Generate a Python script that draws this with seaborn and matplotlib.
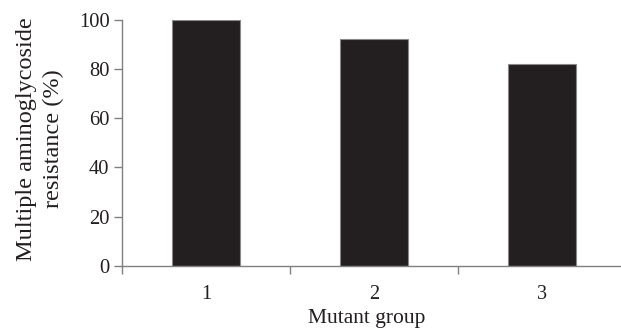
import matplotlib
matplotlib.use("Agg")
import matplotlib.pyplot as plt
import seaborn as sns
import pandas as pd

groups = ["1", "2", "3"]
resistance = [100, 92, 82]

sns.set_style("white")
plt.rcParams['font.family'] = ['Liberation Serif', 'DejaVu Serif']

df = pd.DataFrame({"group": groups, "resistance": resistance})

fig = plt.figure(figsize=(6.21, 3.28), dpi=100)
ax = fig.add_axes([122/621, 62/328, 504/621, 246.5/328])
sns.barplot(data=df, x="group", y="resistance", color="#231f20", width=0.41,
            edgecolor="#888888", linewidth=0.8, saturation=1, ax=ax)

ax.set_xlim(-0.5, 2.5)
ax.set_ylim(0, 100)
ax.set_yticks([0, 20, 40, 60, 80, 100])
for s in ["top", "right"]:
    ax.spines[s].set_visible(False)
for s in ["left", "bottom"]:
    ax.spines[s].set_color("#808080")
    ax.spines[s].set_linewidth(1.0)

ax.set_xticks([0, 1, 2])
ax.set_xticklabels(groups)
ax.set_xticks([-0.5, 0.5, 1.5], minor=True)
ax.tick_params(axis="x", which="major", bottom=True, length=0, pad=14, labelsize=14.5,
               colors="#231f20")
ax.tick_params(axis="x", which="minor", bottom=True, length=6, width=1, color="#808080",
               direction="out")
ax.tick_params(axis="y", left=True, length=6, width=1, color="#808080", direction="out",
               pad=3, labelsize=14.8, labelcolor="#231f20")

ax.set_xlabel("Mutant group", fontsize=15.5, color="#231f20")
ax.xaxis.set_label_coords((367-122)/504, -(318-266)/246.5, transform=ax.transAxes)
ax.xaxis.label.set_va("center")
ax.set_ylabel("Multiple aminoglycoside\nresistance (%)", fontsize=17.5, color="#231f20",
              linespacing=1.35)
ax.yaxis.set_label_coords(-(122-40)/504, (266-139)/246.5, transform=ax.transAxes)
ax.yaxis.label.set_va("center")

fig.savefig("out.png", dpi=100)
